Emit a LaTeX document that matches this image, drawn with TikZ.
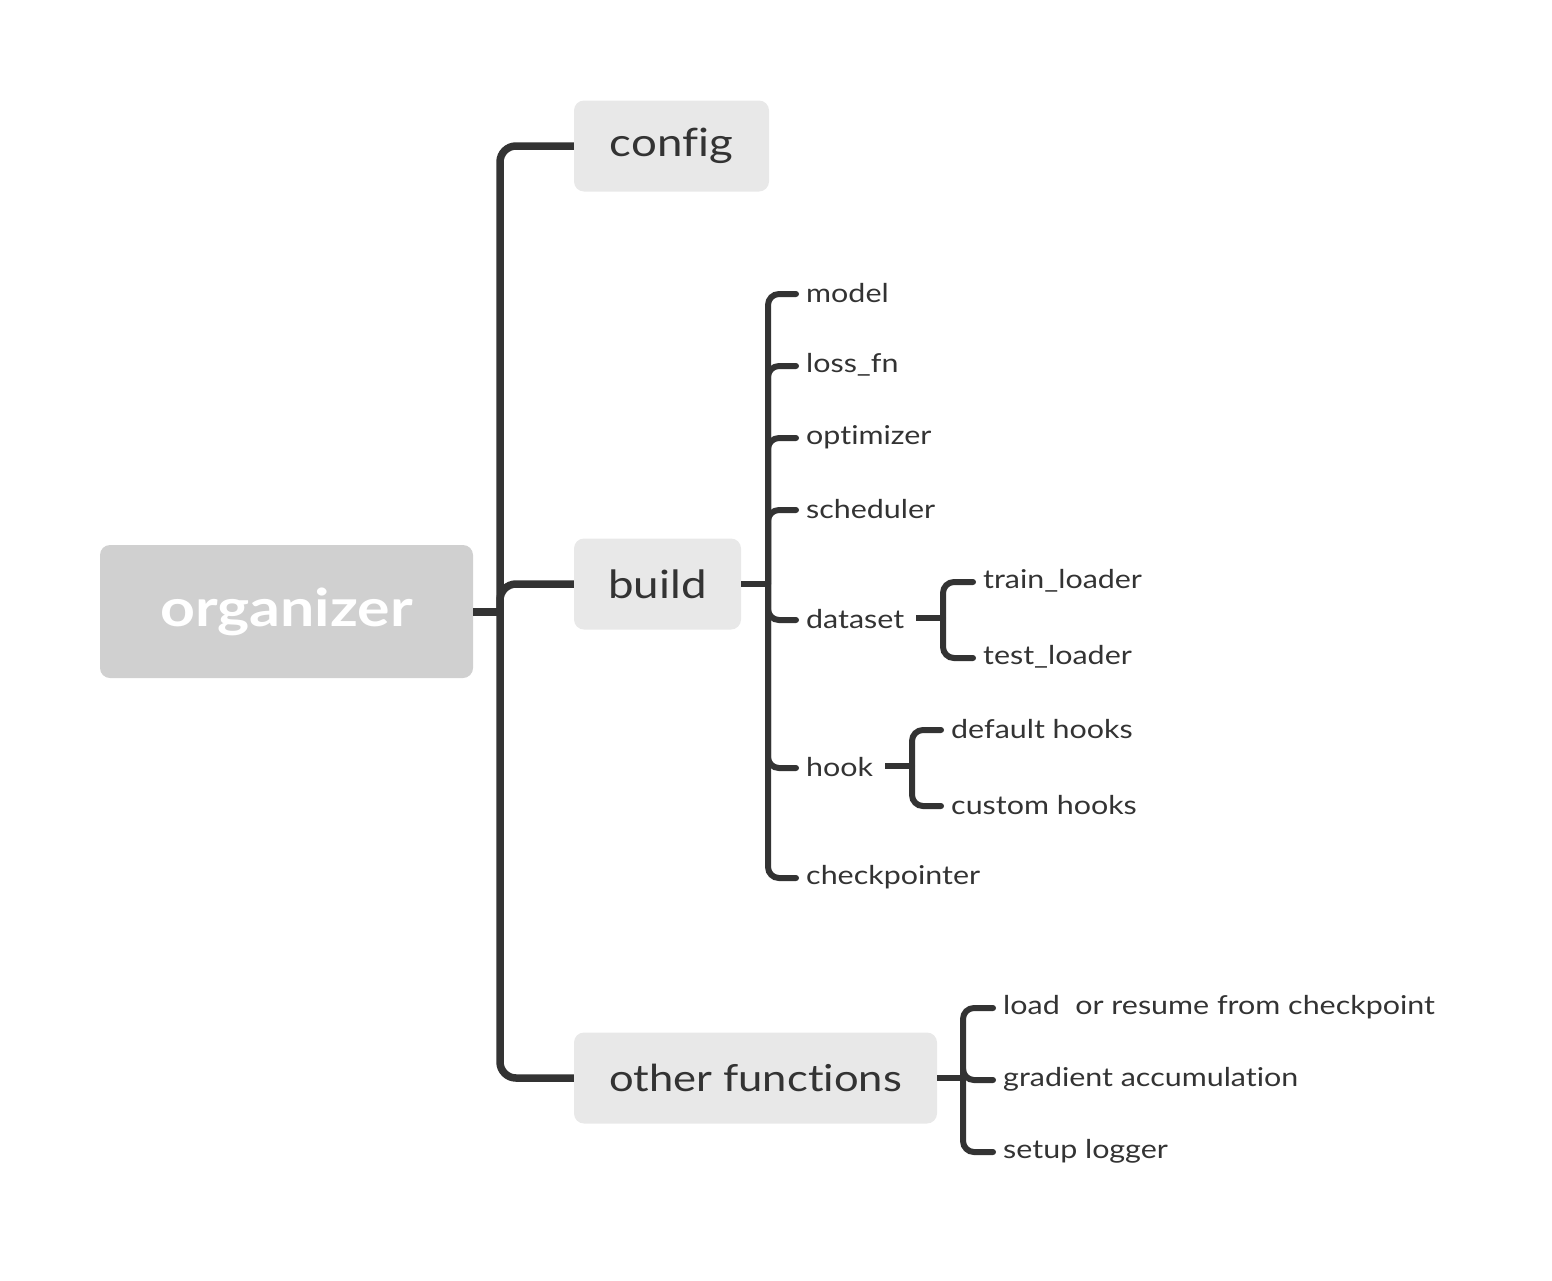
\documentclass[tikz,border=0pt]{standalone}
\usepackage{fontspec}
\setmainfont{Lato}[FakeStretch=1.17,Ligatures={NoCommon}]
\definecolor{linec}{HTML}{333333}
\definecolor{rootc}{HTML}{D0D0D0}
\definecolor{mainc}{HTML}{E8E8E8}
\definecolor{textc}{HTML}{333333}
\begin{document}
\begin{tikzpicture}[x=1pt,y=-1pt,
  rootbox/.style={fill=rootc,rounded corners=10pt,minimum width=373pt,minimum height=133pt,text=white,font=\fontsize{52}{60}\selectfont\bfseries,inner sep=0pt},
  mainbox/.style={fill=mainc,rounded corners=10pt,minimum height=91pt,text=textc,font=\fontsize{39}{46}\selectfont,inner sep=0pt},
  leaf/.style={anchor=west,text=textc,font=\fontsize{26}{30}\selectfont,inner xsep=10pt,inner ysep=0pt},
  bigline/.style={draw=linec,line width=7.5pt,rounded corners=16pt},
  smallline/.style={draw=linec,line width=6pt,rounded corners=11pt,line cap=round}
]
\useasboundingbox (0,0) rectangle (1552,1280);
% nodes
\node[rootbox] (org) at (286.5,611.5) {\raisebox{-3pt}{organizer}};
\node[mainbox,minimum width=195pt] (config) at (671.5,146) {config};
\node[mainbox,minimum width=167pt] (build) at (657.5,584) {build};
\node[mainbox,minimum width=363pt,font=\fontsize{37.2}{44}\selectfont] (other) at (755.5,1078) {other functions};

\node[leaf] (model) at (796,293) {model};
\node[leaf] (loss) at (796,365) {loss\_fn};
\node[leaf] (optim) at (796,437) {optimizer};
\node[leaf] (sched) at (796,509) {scheduler};
\node[leaf] (dataset) at (796,619) {dataset};
\node[leaf] (hook) at (796,767) {hook};
\node[leaf] (ckpt) at (796,877) {checkpointer};

\node[leaf] (train) at (973,581) {train\_loader};
\node[leaf] (test) at (973,657) {test\_loader};
\node[leaf] (defh) at (941,729) {default hooks};
\node[leaf] (custh) at (941,805) {custom hooks};

\node[leaf] (load) at (993,1007) {load\ \ or resume from checkpoint};
\node[leaf] (grad) at (993,1079) {gradient accumulation};
\node[leaf] (logger) at (993,1151) {setup logger};

% junction points
\coordinate (jorg) at (500,612);
\coordinate (jbuild) at (768,584);
\coordinate (jdata) at (943,618);
\coordinate (jhook) at (912,766);
\coordinate (jother) at (963,1078);

% main connectors
\draw[draw=linec,line width=7.5pt] (org.east |- jorg) -- (jorg);
\foreach \n in {config,build,other}{
  \draw[bigline] (jorg) |- (\n.west);
}
% build children
\draw[draw=linec,line width=6pt] (build.east) -- (jbuild);
\foreach \n in {model,loss,optim,sched,dataset,hook,ckpt}{
  \draw[smallline] (jbuild) |- ([yshift=-1pt]\n.west);
}
% dataset children
\draw[draw=linec,line width=6pt] ([xshift=2pt]dataset.east |- jdata) -- (jdata);
\foreach \n in {train,test}{
  \draw[smallline] (jdata) |- ([yshift=-1pt]\n.west);
}
% hook children
\draw[draw=linec,line width=6pt] ([xshift=2pt]hook.east |- jhook) -- (jhook);
\foreach \n in {defh,custh}{
  \draw[smallline] (jhook) |- ([yshift=-1pt]\n.west);
}
% other children
\draw[draw=linec,line width=6pt] (other.east) -- (jother);
\foreach \n in {load,grad,logger}{
  \draw[smallline] (jother) |- ([yshift=-1pt]\n.west);
}
\end{tikzpicture}
\end{document}
